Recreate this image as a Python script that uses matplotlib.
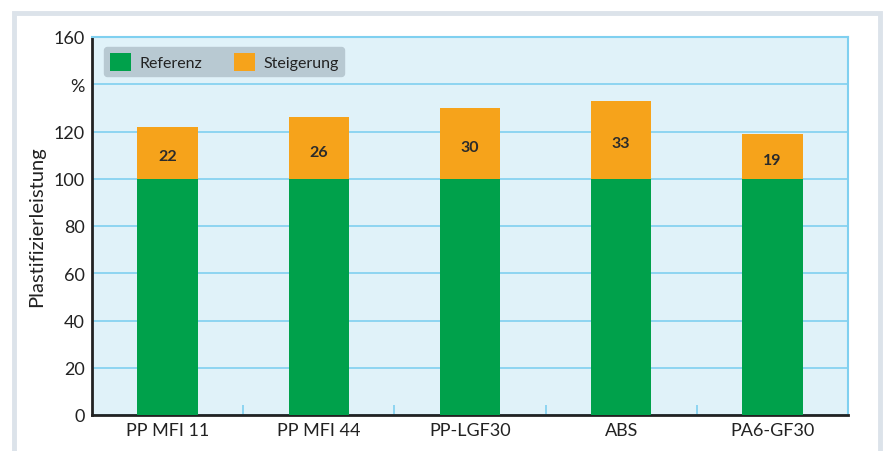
import numpy as np
import matplotlib
matplotlib.use("Agg")
import matplotlib.pyplot as plt
from matplotlib.patches import Rectangle, Patch

plt.rcParams['font.family'] = ['Lato', 'DejaVu Sans']

# data
categories = ["PP MFI 11", "PP MFI 44", "PP-LGF30", "ABS", "PA6-GF30"]
referenz = [100, 100, 100, 100, 100]
steigerung = [22, 26, 30, 33, 19]

green = "#00a14b"
orange = "#f6a31b"
grid_blue = "#7fd0f0"

fig = plt.figure(figsize=(8.87, 4.52), dpi=100)
fig.patch.set_facecolor("white")

# outer frame
fig.patches.append(Rectangle((14 / 887, -0.05), 866 / 887, 1 - 14 / 452 + 0.05,
                             transform=fig.transFigure, facecolor="none",
                             edgecolor="#dce3ea", linewidth=3.5, zorder=-1))

ax = fig.add_axes([92 / 887, 36 / 452, 756 / 887, 378 / 452])
ax.set_facecolor("#e0f2f9")

x = np.arange(len(categories))
width = 0.40
ax.bar(x, referenz, width, color=green, zorder=3)
ax.bar(x, steigerung, width, bottom=referenz, color=orange, zorder=3)

for xi, r, s in zip(x, referenz, steigerung):
    ax.text(xi, r + s / 2 - 1.5, str(s), ha="center", va="center",
            fontsize=11.5, fontweight="bold", color="#2b2b2b", zorder=4)

ax.set_xlim(-0.5, len(categories) - 0.5)
ax.set_ylim(0, 160)
ax.set_yticks(np.arange(0, 161, 20))
ax.set_yticklabels(["0", "20", "40", "60", "80", "100", "120", "%", "160"])
ax.set_xticks(x)
ax.set_xticklabels(categories)
ax.set_xticks(np.arange(0.5, len(categories) - 1, 1), minor=True)
ax.tick_params(axis="x", which="minor", direction="in", length=7,
               color=grid_blue, width=1.2)
ax.tick_params(axis="both", which="major", length=0, labelsize=13,
               labelcolor="#222222", pad=5)

ax.grid(axis="y", color=grid_blue, linewidth=1.2, zorder=1)
ax.set_axisbelow(True)

ax.spines["left"].set_color("#222222")
ax.spines["bottom"].set_color("#222222")
ax.spines["left"].set_linewidth(2)
ax.spines["bottom"].set_linewidth(2)
ax.spines["top"].set_color(grid_blue)
ax.spines["right"].set_color(grid_blue)
ax.spines["top"].set_linewidth(1.5)
ax.spines["right"].set_linewidth(1.5)

ax.set_ylabel("Plastifizierleistung", fontsize=14.5, color="#222222", labelpad=6)

handles = [Patch(facecolor=green, label="Referenz"),
           Patch(facecolor=orange, label="Steigerung")]
leg = ax.legend(handles=handles, loc="upper left", ncol=2, frameon=True,
                fontsize=11.5, bbox_to_anchor=(12 / 756, 1 - 10 / 378),
                borderaxespad=0, handlelength=1.35, handleheight=1.35,
                columnspacing=2.0, handletextpad=0.5, borderpad=0.35,
                fancybox=True)
leg.get_frame().set_facecolor("#b8c9d2")
leg.get_frame().set_edgecolor("#b8c9d2")
leg.get_frame().set_alpha(1)
for t in leg.get_texts():
    t.set_color("#222222")

fig.savefig("out.png", dpi=100)
